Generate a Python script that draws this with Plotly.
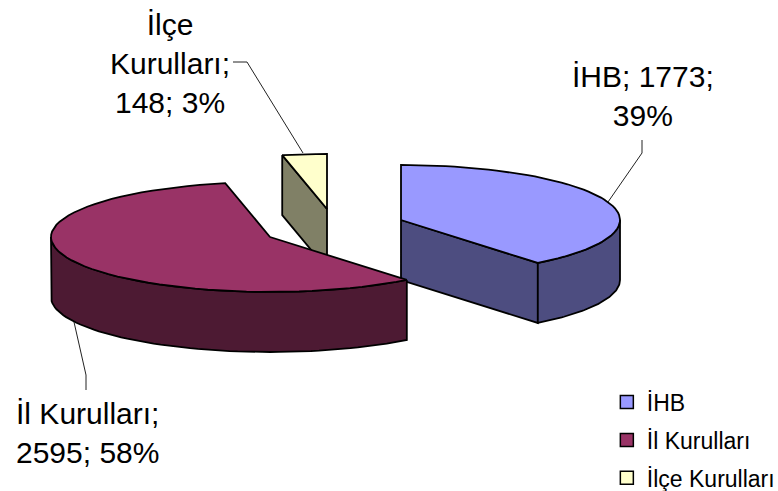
import math
import plotly.graph_objects as go

# Data
categories = ["İHB", "İl Kurulları", "İlçe Kurulları"]
values = [1773, 2595, 148]
percent_labels = ["39%", "58%", "3%"]
top_colors = ["#9999FF", "#993366", "#FFFFCC"]
side_colors = ["#4D4D80", "#4D1A33", "#808066"]

# Projection of the exploded 3D pie into the picture
apex = [(401, 220), (270, 237), (327, 209)]
RX, RY, DEPTH = 219, 55, 60


def rim(i, a):
    cx, cy = apex[i]
    return cx + RX * math.sin(a), cy - RY * math.cos(a)


total = sum(values)
bounds = [0]
for v in values:
    bounds.append(bounds[-1] + v / total * 2 * math.pi)

fig = go.Figure()


def poly(pts, color, width=1.8):
    fig.add_trace(go.Scatter(
        x=[p[0] for p in pts] + [pts[0][0]], y=[p[1] for p in pts] + [pts[0][1]],
        mode="lines", fill="toself", fillcolor=color,
        line=dict(color="#000000", width=width), showlegend=False, hoverinfo="skip"))


def arc(i, a0, a1, n=60):
    return [rim(i, a0 + (a1 - a0) * k / n) for k in range(n + 1)]


def down(pts):
    return [(x, y + DEPTH) for x, y in pts]


# draw back to front: small slice, first slice, largest slice
for i in [2, 0, 1]:
    a0, a1 = bounds[i], bounds[i + 1]
    cx, cy = apex[i]
    if i == 2:
        face = [rim(i, a0), (cx, cy), (cx, cy + DEPTH), (rim(i, a0)[0], rim(i, a0)[1] + DEPTH)]
        poly(face, side_colors[i])
    if i == 0:
        face = [(cx, cy), rim(i, a1), (rim(i, a1)[0], rim(i, a1)[1] + DEPTH), (cx, cy + DEPTH)]
        poly(face, side_colors[i])
    # outer wall, visible part only (front of the ellipse)
    lo, hi = max(a0, math.pi / 2), min(a1, 3 * math.pi / 2)
    if lo < hi:
        top_arc = arc(i, lo, hi)
        poly(top_arc + down(top_arc)[::-1], side_colors[i])
    poly([(cx, cy)] + arc(i, a0, a1), top_colors[i])

# Legend
for i, name in enumerate(categories):
    fig.add_trace(go.Scatter(
        x=[None], y=[None], mode="markers", name=name, legendgroup=name,
        marker=dict(symbol="square", size=13, color=top_colors[i],
                    line=dict(color="#000000", width=1.5))))

# Data labels
FONT = "Liberation Sans, Arial, sans-serif"
labels = [
    (f"{categories[0]}; {values[0]};<br>{percent_labels[0]}", 643, 96),
    ("İl Kurulları;<br>" + f"{values[1]}; {percent_labels[1]}", 87, 433),
    ("İlçe<br>Kurulları;<br>" + f"{values[2]}; {percent_labels[2]}", 170, 63),
]
for text, x, y in labels:
    fig.add_annotation(x=x, y=y, text=text, showarrow=False, align="center",
                       xanchor="center", yanchor="middle",
                       font=dict(family=FONT, size=30, color="#000000"))

# Leader lines
leaders = [
    [(608, 202), (642, 153), (642, 140)],
    [(74, 322), (86, 375), (86, 390)],
    [(233, 62), (247, 62), (303, 153)],
]
for pts in leaders:
    for (x0, y0), (x1, y1) in zip(pts, pts[1:]):
        fig.add_shape(type="line", x0=x0, y0=y0, x1=x1, y1=y1,
                      line=dict(color="#222222", width=1))

fig.update_layout(
    width=778, height=491, margin=dict(l=0, r=0, t=0, b=0, autoexpand=False),
    paper_bgcolor="#FFFFFF", plot_bgcolor="#FFFFFF",
    xaxis=dict(range=[0, 778], visible=False, fixedrange=True),
    yaxis=dict(range=[491, 0], visible=False, fixedrange=True),
    legend=dict(x=0.78, y=0.225, xanchor="left", yanchor="top",
                font=dict(family=FONT, size=23, color="#000000"),
                traceorder="grouped", tracegroupgap=5,
                bgcolor="rgba(0,0,0,0)", itemwidth=30),
)
fig.write_html("out.html", config={"displayModeBar": False},
               post_script="document.body.style.margin='0';document.documentElement.style.overflow='hidden';")
